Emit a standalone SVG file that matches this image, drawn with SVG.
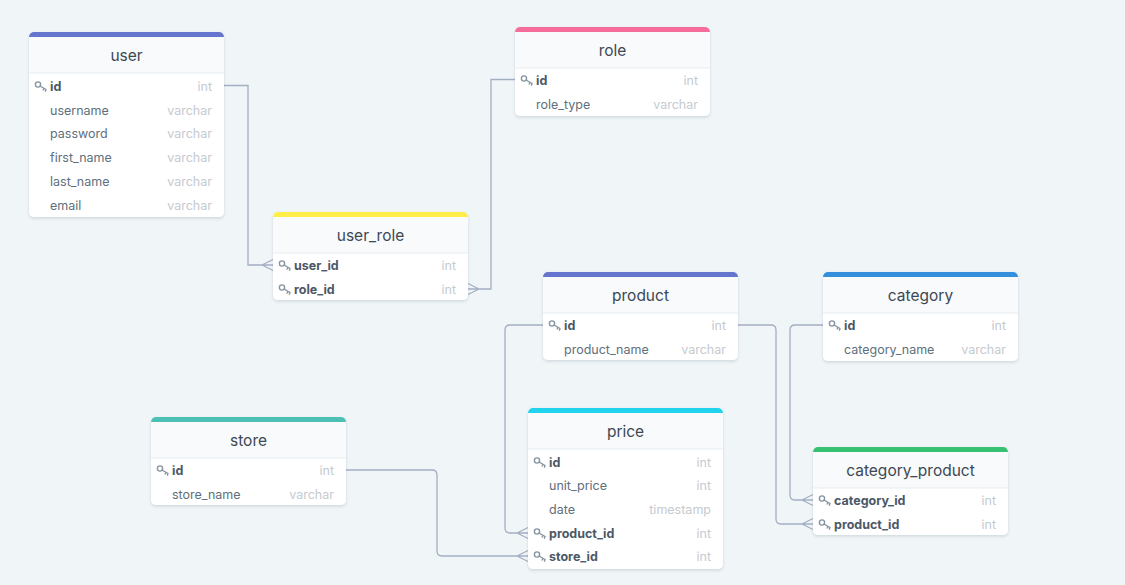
<svg xmlns="http://www.w3.org/2000/svg" width="1125" height="585" viewBox="0 0 1125 585">
<defs>
<filter id="sh" x="-10%" y="-10%" width="120%" height="130%">
<feDropShadow dx="0" dy="1.5" stdDeviation="1.5" flood-color="#1f2d3d" flood-opacity="0.14"/>
</filter>
<g id="key" fill="none" stroke="#8795a1" stroke-width="1.4" stroke-linecap="round">
<circle cx="0" cy="-1.5" r="2.6"/>
<path d="M2,0 L8,3.5 M6,2.3 L5.2,4 M8,3.5 L7.4,5.2"/>
</g>
</defs>
<style>
.card{fill:#ffffff;filter:url(#sh)}
.hdr{fill:#f8fafc}
.sep{stroke:#e8edf2;stroke-width:1.2}
.title{font-family:Inter,"Liberation Sans",sans-serif;font-size:15.5px;fill:#3d4852;text-anchor:middle}
.f{font-family:Inter,"Liberation Sans",sans-serif;font-size:12.5px;fill:#606f7b}
.k{font-family:Inter,"Liberation Sans",sans-serif;font-size:12.5px;fill:#4b5866;font-weight:bold}
.t{font-family:Inter,"Liberation Sans",sans-serif;font-size:12.5px;fill:#c5cad0;text-anchor:end}
.c{fill:none;stroke:#a3afc2;stroke-width:1.3}
</style>
<rect width="1125" height="585" fill="#f0f5f8"/>

<g id="connectors">
<path class="c" d="M224,85.5 H248 V265 H273 M262,265 L273,259.5 M262,265 L273,270.5"/>
<path class="c" d="M515,79.5 H491 V289 H468 M479,289 L468,283.5 M479,289 L468,294.5"/>
<path class="c" d="M543,325 H510 Q505,325 505,330 V528 Q505,533 510,533 H528 M517,533 L528,527.5 M517,533 L528,538.5"/>
<path class="c" d="M346,470 H432 Q437,470 437,475 V551 Q437,556 442,556 H528 M517,556 L528,550.5 M517,556 L528,561.5"/>
<path class="c" d="M738,325 H771 Q776,325 776,330 V519 Q776,524 781,524 H813 M802,524 L813,518.5 M802,524 L813,529.5"/>
<path class="c" d="M823,325 H795 Q790,325 790,330 V495 Q790,500 795,500 H813 M802,500 L813,494.5 M802,500 L813,505.5"/>
</g>

<g id="user" transform="translate(29,32)">
<rect class="card" width="195" height="185" rx="5"/>
<rect width="195" height="12" rx="5" fill="#6574cd"/>
<rect class="hdr" y="5" width="195" height="36"/>
<line class="sep" x1="0" y1="41" x2="195" y2="41"/>
<text class="title" x="97.5" y="29">user</text>
<use href="#key" x="9" y="54"/>
<text class="k" x="21" y="58.5">id</text><text class="t" x="183" y="58.5">int</text>
<text class="f" x="21" y="82.5">username</text><text class="t" x="183" y="82.5">varchar</text>
<text class="f" x="21" y="106">password</text><text class="t" x="183" y="106">varchar</text>
<text class="f" x="21" y="129.5">first_name</text><text class="t" x="183" y="129.5">varchar</text>
<text class="f" x="21" y="153.5">last_name</text><text class="t" x="183" y="153.5">varchar</text>
<text class="f" x="21" y="178">email</text><text class="t" x="183" y="178">varchar</text>
</g>

<g id="role" transform="translate(515,27)">
<rect class="card" width="195" height="89" rx="5"/>
<rect width="195" height="12" rx="5" fill="#f66d9b"/>
<rect class="hdr" y="5" width="195" height="36"/>
<line class="sep" x1="0" y1="41" x2="195" y2="41"/>
<text class="title" x="97.5" y="29">role</text>
<use href="#key" x="9" y="53"/>
<text class="k" x="21" y="57.5">id</text><text class="t" x="183" y="57.5">int</text>
<text class="f" x="21" y="81.5">role_type</text><text class="t" x="183" y="81.5">varchar</text>
</g>

<g id="user_role" transform="translate(273,212)">
<rect class="card" width="195" height="88" rx="5"/>
<rect width="195" height="12" rx="5" fill="#ffed4a"/>
<rect class="hdr" y="5" width="195" height="36"/>
<line class="sep" x1="0" y1="41" x2="195" y2="41"/>
<text class="title" x="97.5" y="29">user_role</text>
<use href="#key" x="9" y="53"/>
<text class="k" x="21" y="57.5">user_id</text><text class="t" x="183" y="57.5">int</text>
<use href="#key" x="9" y="77"/>
<text class="k" x="21" y="81.5">role_id</text><text class="t" x="183" y="81.5">int</text>
</g>

<g id="product" transform="translate(543,272)">
<rect class="card" width="195" height="88" rx="5"/>
<rect width="195" height="12" rx="5" fill="#6574cd"/>
<rect class="hdr" y="5" width="195" height="36"/>
<line class="sep" x1="0" y1="41" x2="195" y2="41"/>
<text class="title" x="97.5" y="29">product</text>
<use href="#key" x="9" y="53"/>
<text class="k" x="21" y="57.5">id</text><text class="t" x="183" y="57.5">int</text>
<text class="f" x="21" y="81.5">product_name</text><text class="t" x="183" y="81.5">varchar</text>
</g>

<g id="category" transform="translate(823,272)">
<rect class="card" width="195" height="89" rx="5"/>
<rect width="195" height="12" rx="5" fill="#3490dc"/>
<rect class="hdr" y="5" width="195" height="36"/>
<line class="sep" x1="0" y1="41" x2="195" y2="41"/>
<text class="title" x="97.5" y="29">category</text>
<use href="#key" x="9" y="53"/>
<text class="k" x="21" y="57.5">id</text><text class="t" x="183" y="57.5">int</text>
<text class="f" x="21" y="82">category_name</text><text class="t" x="183" y="82">varchar</text>
</g>

<g id="store" transform="translate(151,417)">
<rect class="card" width="195" height="88" rx="5"/>
<rect width="195" height="12" rx="5" fill="#4dc0b5"/>
<rect class="hdr" y="5" width="195" height="36"/>
<line class="sep" x1="0" y1="41" x2="195" y2="41"/>
<text class="title" x="97.5" y="29">store</text>
<use href="#key" x="9" y="53"/>
<text class="k" x="21" y="57.5">id</text><text class="t" x="183" y="57.5">int</text>
<text class="f" x="21" y="81.5">store_name</text><text class="t" x="183" y="81.5">varchar</text>
</g>

<g id="price" transform="translate(528,408)">
<rect class="card" width="195" height="161" rx="5"/>
<rect width="195" height="12" rx="5" fill="#22d3ee"/>
<rect class="hdr" y="5" width="195" height="36"/>
<line class="sep" x1="0" y1="41" x2="195" y2="41"/>
<text class="title" x="97.5" y="29">price</text>
<use href="#key" x="9" y="54"/>
<text class="k" x="21" y="58.5">id</text><text class="t" x="183" y="58.5">int</text>
<text class="f" x="21" y="81.5">unit_price</text><text class="t" x="183" y="81.5">int</text>
<text class="f" x="21" y="105.5">date</text><text class="t" x="183" y="105.5">timestamp</text>
<use href="#key" x="9" y="125"/>
<text class="k" x="21" y="129.5">product_id</text><text class="t" x="183" y="129.5">int</text>
<use href="#key" x="9" y="148"/>
<text class="k" x="21" y="152.5">store_id</text><text class="t" x="183" y="152.5">int</text>
</g>

<g id="category_product" transform="translate(813,447)">
<rect class="card" width="195" height="88" rx="5"/>
<rect width="195" height="12" rx="5" fill="#38c172"/>
<rect class="hdr" y="5" width="195" height="36"/>
<line class="sep" x1="0" y1="41" x2="195" y2="41"/>
<text class="title" x="97.5" y="29">category_product</text>
<use href="#key" x="9" y="53"/>
<text class="k" x="21" y="57.5">category_id</text><text class="t" x="183" y="57.5">int</text>
<use href="#key" x="9" y="77"/>
<text class="k" x="21" y="81.5">product_id</text><text class="t" x="183" y="81.5">int</text>
</g>
</svg>
